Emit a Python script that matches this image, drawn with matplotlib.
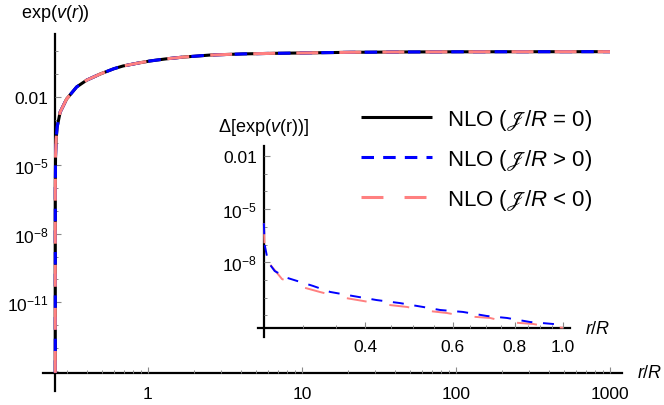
import numpy as np
import matplotlib
matplotlib.use("Agg")
import matplotlib.pyplot as plt
from matplotlib.ticker import FixedLocator, FixedFormatter, NullFormatter

plt.rcParams.update({
    'font.family': ['Liberation Sans', 'STIXGeneral', 'DejaVu Sans'],
    'mathtext.fontset': 'custom',
    'mathtext.rm': 'Liberation Sans',
    'mathtext.it': 'Liberation Sans:italic',
    'mathtext.bf': 'Liberation Sans:bold',
    'mathtext.fallback': 'stix',
    'lines.scale_dashes': False,
})

# ---------------- data ----------------
# main panel: r/R and log10 exp(v(r)); the three NLO curves coincide
r_main = [0.25, 0.2500001, 0.250001, 0.25001, 0.2501, 0.251, 0.253, 0.257,
          0.269, 0.296, 0.344, 0.40, 0.49, 0.60, 0.688, 0.85, 1.03, 1.3,
          1.69, 2.53, 4.14, 6.5, 9.7, 20.5, 43, 100, 250, 500, 1000]
log_exp_v_zero = [-14.1, -10.59, -9.09, -7.59, -6.09, -4.59, -3.87, -3.32,
                  -2.66, -2.09, -1.56, -1.26, -0.99, -0.76, -0.64, -0.52, -0.42, -0.33,
                  -0.25, -0.16, -0.11, -0.085, -0.07, -0.04, -0.026, -0.018, -0.015, -0.013, -0.012]
log_exp_v_pos = log_exp_v_zero
log_exp_v_neg = log_exp_v_zero

# inset: difference to the J/R = 0 curve
r_inset_pos = [0.2501, 0.251, 0.255, 0.263, 0.279, 0.314, 0.340, 0.378, 0.422, 0.470,
               0.523, 0.566, 0.629, 0.703, 0.771, 0.859, 0.955, 1.0]
log_delta_pos = [-5.8, -7.0, -7.99, -8.50, -8.89, -9.34, -9.68, -9.91, -10.14, -10.31,
                 -10.53, -10.70, -10.81, -11.04, -11.15, -11.38, -11.49, -11.56]
r_inset_neg = [0.2501, 0.251, 0.254, 0.272, 0.293, 0.324, 0.356, 0.396, 0.429, 0.486,
               0.516, 0.584, 0.629, 0.713, 0.771, 0.871, 0.942, 1.0]
log_delta_neg = [-5.8, -7.25, -7.93, -8.95, -9.34, -9.68, -9.97, -10.19, -10.36, -10.53,
                 -10.70, -10.87, -11.04, -11.15, -11.38, -11.49, -11.66, -11.70]

labels = [r'NLO ($𝒥/R$ = 0)', r'NLO ($𝒥/R$ > 0)', r'NLO ($𝒥/R$ < 0)']
main_xticks = [1, 10, 100, 1000]
main_xticklabels = ['1', '10', '100', '1000']
main_yticks = [1e-2, 1e-5, 1e-8, 1e-11]
main_yticklabels = ['0.01', r'$10^{-5}$', r'$10^{-8}$', r'$10^{-11}$']
inset_xticks = [0.4, 0.6, 0.8, 1.0]
inset_xticklabels = ['0.4', '0.6', '0.8', '1.0']
inset_yticks = [1e-2, 1e-5, 1e-8]
inset_yticklabels = ['0.01', r'$10^{-5}$', r'$10^{-8}$']

# ---------------- figure ----------------
W, H = 664, 406
fig = plt.figure(figsize=(W / 100, H / 100), dpi=100)


def rect(l, t, r, b):
    return [l / W, 1 - b / H, (r - l) / W, (b - t) / H]


BLACK = '#000000'
BLUE = '#0000ff'
PINK = '#ff8080'
TICKC = '#8a8a8a'


def style_axes(ax, xcross, ycross, xpad, ypad):
    for s in ('top', 'right'):
        ax.spines[s].set_visible(False)
    ax.spines['left'].set_position(('data', xcross))
    ax.spines['bottom'].set_position(('data', ycross))
    for s in ('left', 'bottom'):
        ax.spines[s].set_linewidth(1.6)
        ax.spines[s].set_color('black')
        ax.spines[s].set_zorder(1)
    ax.tick_params(which='major', direction='in', length=4, width=0.8, color=TICKC,
                   labelsize=12.5)
    ax.tick_params(axis='x', which='major', pad=xpad)
    ax.tick_params(axis='y', which='major', pad=ypad)
    ax.tick_params(which='minor', direction='in', length=2.2, width=0.7, color=TICKC)
    ax.set_facecolor('none')


# main axes
ax = fig.add_axes(rect(43, 35, 622, 392))
ax.set_xscale('log')
ax.set_yscale('log')
ax.set_xlim(10 ** ((43 - 148) / 154), 10 ** ((622 - 148) / 154))
ax.set_ylim(10 ** (-(392 - 52.4) / 22.8), 10 ** (-(35 - 52.4) / 22.8))
style_axes(ax, 0.25, 10 ** -14.1, xpad=9.5, ypad=5)

y0 = 10.0 ** np.array(log_exp_v_zero)
yp = 10.0 ** np.array(log_exp_v_pos)
yn = 10.0 ** np.array(log_exp_v_neg)
l0, = ax.plot(r_main, y0, color=BLACK, lw=2.2, solid_capstyle='butt', label=labels[0], zorder=3)
l1, = ax.plot(r_main, yp, color=BLUE, lw=2.2, dashes=(9, 6.6), label=labels[1], zorder=4)
l2, = ax.plot(r_main, yn, color=PINK, lw=2.2, dashes=(15.8, 15.2), label=labels[2], zorder=5)

ax.xaxis.set_major_locator(FixedLocator(main_xticks))
ax.xaxis.set_major_formatter(FixedFormatter(main_xticklabels))
minx = [m * d for d in (0.1, 1, 10, 100) for m in range(2, 10) if 0.26 < m * d < 1000]
ax.xaxis.set_minor_locator(FixedLocator(minx))
ax.xaxis.set_minor_formatter(NullFormatter())
ax.yaxis.set_major_locator(FixedLocator(main_yticks))
ax.yaxis.set_major_formatter(FixedFormatter(main_yticklabels))
ax.yaxis.set_minor_locator(FixedLocator([10.0 ** k for k in range(-14, 1)
                                         if 10.0 ** k not in main_yticks]))
ax.yaxis.set_minor_formatter(NullFormatter())

ax.legend(handles=[l0, l1, l2], loc='upper left', bbox_to_anchor=(361 / W, 1 - 108 / H),
          bbox_transform=fig.transFigure, frameon=False, fontsize=16,
          handlelength=3.2, handletextpad=0.68, labelspacing=0.68,
          borderpad=0, borderaxespad=0)

fig.text(21 / W, 1 - 13 / H, r'exp($v$($r$))', fontsize=13, ha='left', va='center')
fig.text(637 / W, 1 - 374 / H, r'$r$/$R$', fontsize=13, ha='left', va='center')

# inset axes
axi = fig.add_axes(rect(258, 147, 570, 338))
axi.set_xscale('log')
axi.set_yscale('log')
axi.set_xlim(10 ** ((258 - 563) / 497), 10 ** ((570 - 563) / 497))
axi.set_ylim(10 ** (-2 - (338 - 157) / 17.7), 10 ** (-2 - (147 - 157) / 17.7))
style_axes(axi, 0.25, 10 ** -11.72, xpad=8, ypad=5)

axi.plot(r_inset_pos, 10.0 ** np.array(log_delta_pos), color=BLUE, lw=1.4, dashes=(7.9, 7.7), zorder=4)
axi.plot(r_inset_neg, 10.0 ** np.array(log_delta_neg), color=PINK, lw=1.4, dashes=(14.4, 16.6), zorder=3)

axi.xaxis.set_major_locator(FixedLocator(inset_xticks))
axi.xaxis.set_major_formatter(FixedFormatter(inset_xticklabels))
axi.xaxis.set_minor_locator(FixedLocator([0.3, 0.35, 0.45, 0.5, 0.55, 0.65, 0.7, 0.75,
                                          0.85, 0.9, 0.95]))
axi.xaxis.set_minor_formatter(NullFormatter())
axi.yaxis.set_major_locator(FixedLocator(inset_yticks))
axi.yaxis.set_major_formatter(FixedFormatter(inset_yticklabels))
axi.yaxis.set_minor_locator(FixedLocator([10.0 ** k for k in range(-11, -1)
                                          if 10.0 ** k not in inset_yticks]))
axi.yaxis.set_minor_formatter(NullFormatter())

fig.text(218 / W, 1 - 128 / H, r'Δ[exp($v$(r))]', fontsize=13, ha='left', va='center')
fig.text(585 / W, 1 - 330 / H, r'$r$/$R$', fontsize=13, ha='left', va='center')

fig.savefig('out.png', dpi=100)
